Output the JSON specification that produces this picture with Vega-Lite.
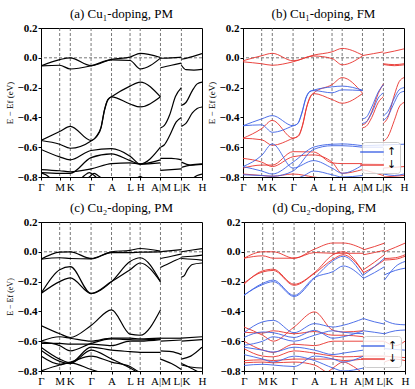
{
"$schema":"https://vega.github.io/schema/vega-lite/v6.json",
"padding":{"left":5,"top":7,"right":2,"bottom":2},
"config":{
 "font":"Liberation Serif",
 "view":{"stroke":"black","strokeWidth":1},
 "axis":{"grid":false,"domainColor":"black","tickColor":"black","tickSize":3,"labelColor":"black","titleColor":"black","labelFont":"Liberation Serif","titleFont":"Liberation Serif","labelOverlap":false,"labelFlush":false,"labelBound":false},
 "axisX":{"labelFontSize":11,"labelPadding":1},
 "axisY":{"labelFontSize":11,"labelFontWeight":"bold","titleFontSize":9,"titleFontWeight":"normal","titlePadding":2,"labelPadding":1},
 "title":{"fontSize":13,"fontWeight":"normal","font":"Liberation Serif","offset":1,"anchor":"middle","color":"black"}
},
"datasets":{
"kp":[{"x":0.116},{"x":0.182},{"x":0.311},{"x":0.438},{"x":0.553},{"x":0.616},{"x":0.742},{"x":0.872}],
"a":[
{"b":"1","x":0,"y":-0.054},{"b":"1","x":0.116,"y":-0.012},{"b":"1","x":0.182,"y":0},{"b":"1","x":0.311,"y":-0.052},{"b":"1","x":0.438,"y":-0.01},{"b":"1","x":0.553,"y":0.005},{"b":"1","x":0.616,"y":0.03},{"b":"1","x":0.742,"y":0.002},
{"b":"2","x":0,"y":-0.054},{"b":"2","x":0.116,"y":-0.05},{"b":"2","x":0.182,"y":-0.075},{"b":"2","x":0.311,"y":-0.054},{"b":"2","x":0.438,"y":-0.014},{"b":"2","x":0.553,"y":-0.018},{"b":"2","x":0.616,"y":-0.075},{"b":"2","x":0.742,"y":-0.002},
{"b":"3","x":0,"y":-0.555},{"b":"3","x":0.116,"y":-0.495},{"b":"3","x":0.182,"y":-0.46},{"b":"3","x":0.311,"y":-0.555},{"b":"3","x":0.345,"y":-0.525},{"b":"3","x":0.373,"y":-0.465},{"b":"3","x":0.394,"y":-0.35},{"b":"3","x":0.415,"y":-0.28},{"b":"3","x":0.438,"y":-0.262},{"b":"3","x":0.553,"y":-0.19},{"b":"3","x":0.616,"y":-0.163},{"b":"3","x":0.742,"y":-0.262},
{"b":"4","x":0,"y":-0.555},{"b":"4","x":0.116,"y":-0.58},{"b":"4","x":0.182,"y":-0.607},{"b":"4","x":0.311,"y":-0.558},{"b":"4","x":0.345,"y":-0.53},{"b":"4","x":0.373,"y":-0.47},{"b":"4","x":0.394,"y":-0.355},{"b":"4","x":0.415,"y":-0.284},{"b":"4","x":0.438,"y":-0.262},{"b":"4","x":0.553,"y":-0.31},{"b":"4","x":0.616,"y":-0.33},{"b":"4","x":0.742,"y":-0.262},
{"b":"5","x":0,"y":-0.615},{"b":"5","x":0.116,"y":-0.665},{"b":"5","x":0.182,"y":-0.685},{"b":"5","x":0.311,"y":-0.622},{"b":"5","x":0.438,"y":-0.61},{"b":"5","x":0.553,"y":-0.66},{"b":"5","x":0.616,"y":-0.713},{"b":"5","x":0.742,"y":-0.6},
{"b":"6","x":0,"y":-0.75},{"b":"6","x":0.116,"y":-0.758},{"b":"6","x":0.182,"y":-0.765},{"b":"6","x":0.311,"y":-0.745},{"b":"6","x":0.438,"y":-0.71},{"b":"6","x":0.553,"y":-0.705},{"b":"6","x":0.616,"y":-0.713},{"b":"6","x":0.742,"y":-0.705},
{"b":"7","x":0,"y":-0.77},{"b":"7","x":0.116,"y":-0.775},{"b":"7","x":0.182,"y":-0.775},{"b":"7","x":0.311,"y":-0.67},{"b":"7","x":0.438,"y":-0.645},{"b":"7","x":0.553,"y":-0.69},{"b":"7","x":0.616,"y":-0.713},{"b":"7","x":0.742,"y":-0.685},
{"b":"8","x":0,"y":-0.772},{"b":"8","x":0.03,"y":-0.785},{"b":"8","x":0.065,"y":-0.815},
{"b":"9","x":0.24,"y":-0.82},{"b":"9","x":0.27,"y":-0.79},{"b":"9","x":0.3,"y":-0.77},{"b":"9","x":0.33,"y":-0.79},{"b":"9","x":0.36,"y":-0.82},
{"b":"10","x":0.27,"y":-0.82},{"b":"10","x":0.3,"y":-0.8},{"b":"10","x":0.33,"y":-0.775},{"b":"10","x":0.36,"y":-0.795},{"b":"10","x":0.39,"y":-0.82},
{"b":"11","x":0.58,"y":-0.82},{"b":"11","x":0.616,"y":-0.798},{"b":"11","x":0.65,"y":-0.82},
{"b":"1m","x":0.742,"y":-0.067},{"b":"1m","x":0.81,"y":-0.05},{"b":"1m","x":0.872,"y":-0.036},
{"b":"2m","x":0.742,"y":-0.003},{"b":"2m","x":0.81,"y":0},{"b":"2m","x":0.872,"y":0.004},
{"b":"3m","x":0.742,"y":-0.47},{"b":"3m","x":0.765,"y":-0.455},{"b":"3m","x":0.8,"y":-0.38},{"b":"3m","x":0.835,"y":-0.26},{"b":"3m","x":0.872,"y":-0.2},
{"b":"4m","x":0.742,"y":-0.6},{"b":"4m","x":0.765,"y":-0.585},{"b":"4m","x":0.8,"y":-0.52},{"b":"4m","x":0.84,"y":-0.43},{"b":"4m","x":0.872,"y":-0.4},
{"b":"5m","x":0.742,"y":-0.675},{"b":"5m","x":0.81,"y":-0.675},{"b":"5m","x":0.872,"y":-0.685},
{"b":"6m","x":0.742,"y":-0.755},{"b":"6m","x":0.81,"y":-0.75},{"b":"6m","x":0.872,"y":-0.745},
{"b":"1k","x":0.872,"y":-0.01},{"b":"1k","x":0.94,"y":0.008},{"b":"1k","x":1,"y":0.028},
{"b":"2k","x":0.872,"y":-0.05},{"b":"2k","x":0.9,"y":-0.08},{"b":"2k","x":0.95,"y":-0.083},{"b":"2k","x":1,"y":-0.078},
{"b":"3k","x":0.872,"y":-0.32},{"b":"3k","x":0.9,"y":-0.3},{"b":"3k","x":0.94,"y":-0.22},{"b":"3k","x":0.97,"y":-0.175},{"b":"3k","x":1,"y":-0.163},
{"b":"4k","x":0.872,"y":-0.46},{"b":"4k","x":0.9,"y":-0.44},{"b":"4k","x":0.94,"y":-0.37},{"b":"4k","x":0.97,"y":-0.34},{"b":"4k","x":1,"y":-0.33},
{"b":"5k","x":0.872,"y":-0.7},{"b":"5k","x":0.93,"y":-0.72},{"b":"5k","x":1,"y":-0.715},
{"b":"6k","x":0.872,"y":-0.735},{"b":"6k","x":0.93,"y":-0.72},{"b":"6k","x":1,"y":-0.712},
{"b":"7k","x":0.93,"y":-0.82},{"b":"7k","x":0.97,"y":-0.79},{"b":"7k","x":1,"y":-0.78}
],
"b":[
{"b":"d1","s":"d","x":0,"y":-0.02},{"b":"d1","s":"d","x":0.116,"y":0.014},{"b":"d1","s":"d","x":0.182,"y":0.03},{"b":"d1","s":"d","x":0.311,"y":-0.02},{"b":"d1","s":"d","x":0.438,"y":0.018},{"b":"d1","s":"d","x":0.553,"y":0.04},{"b":"d1","s":"d","x":0.616,"y":0.063},{"b":"d1","s":"d","x":0.742,"y":0.018},
{"b":"d2","s":"d","x":0,"y":-0.027},{"b":"d2","s":"d","x":0.116,"y":-0.04},{"b":"d2","s":"d","x":0.182,"y":-0.05},{"b":"d2","s":"d","x":0.311,"y":-0.027},{"b":"d2","s":"d","x":0.438,"y":0.012},{"b":"d2","s":"d","x":0.553,"y":-0.005},{"b":"d2","s":"d","x":0.616,"y":-0.047},{"b":"d2","s":"d","x":0.742,"y":0.012},
{"b":"d3","s":"d","x":0,"y":-0.54},{"b":"d3","s":"d","x":0.116,"y":-0.475},{"b":"d3","s":"d","x":0.182,"y":-0.42},{"b":"d3","s":"d","x":0.311,"y":-0.54},{"b":"d3","s":"d","x":0.345,"y":-0.52},{"b":"d3","s":"d","x":0.37,"y":-0.45},{"b":"d3","s":"d","x":0.395,"y":-0.33},{"b":"d3","s":"d","x":0.418,"y":-0.26},{"b":"d3","s":"d","x":0.438,"y":-0.237},{"b":"d3","s":"d","x":0.553,"y":-0.18},{"b":"d3","s":"d","x":0.616,"y":-0.133},{"b":"d3","s":"d","x":0.742,"y":-0.237},
{"b":"d4","s":"d","x":0,"y":-0.54},{"b":"d4","s":"d","x":0.116,"y":-0.55},{"b":"d4","s":"d","x":0.182,"y":-0.587},{"b":"d4","s":"d","x":0.311,"y":-0.54},{"b":"d4","s":"d","x":0.345,"y":-0.525},{"b":"d4","s":"d","x":0.37,"y":-0.455},{"b":"d4","s":"d","x":0.395,"y":-0.335},{"b":"d4","s":"d","x":0.418,"y":-0.265},{"b":"d4","s":"d","x":0.438,"y":-0.24},{"b":"d4","s":"d","x":0.553,"y":-0.28},{"b":"d4","s":"d","x":0.616,"y":-0.305},{"b":"d4","s":"d","x":0.742,"y":-0.24},
{"b":"d5","s":"d","x":0,"y":-0.675},{"b":"d5","s":"d","x":0.116,"y":-0.7},{"b":"d5","s":"d","x":0.182,"y":-0.73},{"b":"d5","s":"d","x":0.311,"y":-0.664},{"b":"d5","s":"d","x":0.438,"y":-0.652},{"b":"d5","s":"d","x":0.553,"y":-0.7},{"b":"d5","s":"d","x":0.616,"y":-0.775},{"b":"d5","s":"d","x":0.742,"y":-0.75},
{"b":"d6","s":"d","x":0,"y":-0.74},{"b":"d6","s":"d","x":0.116,"y":-0.72},{"b":"d6","s":"d","x":0.182,"y":-0.72},{"b":"d6","s":"d","x":0.311,"y":-0.63},{"b":"d6","s":"d","x":0.438,"y":-0.632},{"b":"d6","s":"d","x":0.553,"y":-0.705},{"b":"d6","s":"d","x":0.616,"y":-0.71},{"b":"d6","s":"d","x":0.742,"y":-0.71},
{"b":"d7","s":"d","x":0,"y":-0.78},{"b":"d7","s":"d","x":0.116,"y":-0.79},{"b":"d7","s":"d","x":0.182,"y":-0.795},{"b":"d7","s":"d","x":0.311,"y":-0.78},{"b":"d7","s":"d","x":0.438,"y":-0.8},{"b":"d7","s":"d","x":0.553,"y":-0.815},
{"b":"d1m","s":"d","x":0.742,"y":0.015},{"b":"d1m","s":"d","x":0.81,"y":0.028},{"b":"d1m","s":"d","x":0.872,"y":0.04},
{"b":"d3m","s":"d","x":0.742,"y":-0.45},{"b":"d3m","s":"d","x":0.765,"y":-0.435},{"b":"d3m","s":"d","x":0.8,"y":-0.36},{"b":"d3m","s":"d","x":0.84,"y":-0.24},{"b":"d3m","s":"d","x":0.872,"y":-0.175},
{"b":"d4m","s":"d","x":0.742,"y":-0.47},{"b":"d4m","s":"d","x":0.765,"y":-0.46},{"b":"d4m","s":"d","x":0.8,"y":-0.4},{"b":"d4m","s":"d","x":0.84,"y":-0.3},{"b":"d4m","s":"d","x":0.872,"y":-0.26},
{"b":"d6m","s":"d","x":0.742,"y":-0.71},{"b":"d6m","s":"d","x":0.872,"y":-0.715},
{"b":"d5m","s":"d","x":0.742,"y":-0.75},{"b":"d5m","s":"d","x":0.81,"y":-0.77},{"b":"d5m","s":"d","x":0.872,"y":-0.79},
{"b":"d1k","s":"d","x":0.872,"y":0.03},{"b":"d1k","s":"d","x":0.94,"y":0.045},{"b":"d1k","s":"d","x":1,"y":0.06},
{"b":"d2k","s":"d","x":0.872,"y":-0.045},{"b":"d2k","s":"d","x":0.94,"y":-0.053},{"b":"d2k","s":"d","x":1,"y":-0.047},
{"b":"d2l","s":"d","x":0.872,"y":-0.04},{"b":"d2l","s":"d","x":0.94,"y":-0.046},{"b":"d2l","s":"d","x":1,"y":-0.04},
{"b":"d3k","s":"d","x":0.872,"y":-0.44},{"b":"d3k","s":"d","x":0.9,"y":-0.4},{"b":"d3k","s":"d","x":0.94,"y":-0.25},{"b":"d3k","s":"d","x":0.97,"y":-0.16},{"b":"d3k","s":"d","x":1,"y":-0.133},
{"b":"d4k","s":"d","x":0.872,"y":-0.56},{"b":"d4k","s":"d","x":0.9,"y":-0.53},{"b":"d4k","s":"d","x":0.94,"y":-0.42},{"b":"d4k","s":"d","x":0.97,"y":-0.33},{"b":"d4k","s":"d","x":1,"y":-0.3},
{"b":"d5k","s":"d","x":0.872,"y":-0.74},{"b":"d5k","s":"d","x":0.94,"y":-0.735},{"b":"d5k","s":"d","x":1,"y":-0.73},
{"b":"d7k","s":"d","x":0.872,"y":-0.8},{"b":"d7k","s":"d","x":1,"y":-0.79},
{"b":"u1","s":"u","x":0,"y":-0.456},{"b":"u1","s":"u","x":0.116,"y":-0.41},{"b":"u1","s":"u","x":0.182,"y":-0.388},{"b":"u1","s":"u","x":0.311,"y":-0.456},{"b":"u1","s":"u","x":0.34,"y":-0.44},{"b":"u1","s":"u","x":0.365,"y":-0.37},{"b":"u1","s":"u","x":0.39,"y":-0.27},{"b":"u1","s":"u","x":0.415,"y":-0.225},{"b":"u1","s":"u","x":0.438,"y":-0.217},{"b":"u1","s":"u","x":0.553,"y":-0.195},{"b":"u1","s":"u","x":0.616,"y":-0.19},{"b":"u1","s":"u","x":0.742,"y":-0.217},
{"b":"u2","s":"u","x":0,"y":-0.456},{"b":"u2","s":"u","x":0.116,"y":-0.45},{"b":"u2","s":"u","x":0.182,"y":-0.5},{"b":"u2","s":"u","x":0.311,"y":-0.456},{"b":"u2","s":"u","x":0.34,"y":-0.442},{"b":"u2","s":"u","x":0.365,"y":-0.375},{"b":"u2","s":"u","x":0.39,"y":-0.275},{"b":"u2","s":"u","x":0.415,"y":-0.228},{"b":"u2","s":"u","x":0.438,"y":-0.22},{"b":"u2","s":"u","x":0.553,"y":-0.235},{"b":"u2","s":"u","x":0.616,"y":-0.215},{"b":"u2","s":"u","x":0.742,"y":-0.22},
{"b":"u4","s":"u","x":0,"y":-0.73},{"b":"u4","s":"u","x":0.116,"y":-0.655},{"b":"u4","s":"u","x":0.182,"y":-0.578},{"b":"u4","s":"u","x":0.311,"y":-0.74},{"b":"u4","s":"u","x":0.438,"y":-0.69},{"b":"u4","s":"u","x":0.553,"y":-0.74},{"b":"u4","s":"u","x":0.616,"y":-0.775},{"b":"u4","s":"u","x":0.742,"y":-0.72},
{"b":"u5","s":"u","x":0,"y":-0.73},{"b":"u5","s":"u","x":0.116,"y":-0.76},{"b":"u5","s":"u","x":0.182,"y":-0.78},{"b":"u5","s":"u","x":0.311,"y":-0.7},{"b":"u5","s":"u","x":0.438,"y":-0.6},{"b":"u5","s":"u","x":0.553,"y":-0.58},{"b":"u5","s":"u","x":0.616,"y":-0.578},{"b":"u5","s":"u","x":0.742,"y":-0.59},
{"b":"u6","s":"u","x":0,"y":-0.785},{"b":"u6","s":"u","x":0.116,"y":-0.79},{"b":"u6","s":"u","x":0.182,"y":-0.795},{"b":"u6","s":"u","x":0.311,"y":-0.76},{"b":"u6","s":"u","x":0.438,"y":-0.615},{"b":"u6","s":"u","x":0.553,"y":-0.59},{"b":"u6","s":"u","x":0.616,"y":-0.59},{"b":"u6","s":"u","x":0.742,"y":-0.6},
{"b":"u7","s":"u","x":0.311,"y":-0.82},{"b":"u7","s":"u","x":0.38,"y":-0.79},{"b":"u7","s":"u","x":0.438,"y":-0.76},{"b":"u7","s":"u","x":0.553,"y":-0.785},{"b":"u7","s":"u","x":0.616,"y":-0.8},{"b":"u7","s":"u","x":0.742,"y":-0.79},
{"b":"u1m","s":"u","x":0.742,"y":-0.41},{"b":"u1m","s":"u","x":0.765,"y":-0.4},{"b":"u1m","s":"u","x":0.8,"y":-0.33},{"b":"u1m","s":"u","x":0.84,"y":-0.23},{"b":"u1m","s":"u","x":0.872,"y":-0.18},
{"b":"u2m","s":"u","x":0.742,"y":-0.44},{"b":"u2m","s":"u","x":0.765,"y":-0.43},{"b":"u2m","s":"u","x":0.8,"y":-0.37},{"b":"u2m","s":"u","x":0.84,"y":-0.27},{"b":"u2m","s":"u","x":0.872,"y":-0.235},
{"b":"u5m","s":"u","x":0.742,"y":-0.59},{"b":"u5m","s":"u","x":0.872,"y":-0.585},
{"b":"u6m","s":"u","x":0.742,"y":-0.6},{"b":"u6m","s":"u","x":0.872,"y":-0.6},
{"b":"u1k","s":"u","x":0.872,"y":-0.39},{"b":"u1k","s":"u","x":0.9,"y":-0.36},{"b":"u1k","s":"u","x":0.94,"y":-0.27},{"b":"u1k","s":"u","x":0.97,"y":-0.215},{"b":"u1k","s":"u","x":1,"y":-0.2},
{"b":"u2k","s":"u","x":0.872,"y":-0.42},{"b":"u2k","s":"u","x":0.9,"y":-0.39},{"b":"u2k","s":"u","x":0.94,"y":-0.3},{"b":"u2k","s":"u","x":0.97,"y":-0.24},{"b":"u2k","s":"u","x":1,"y":-0.225},
{"b":"u5k","s":"u","x":0.872,"y":-0.585},{"b":"u5k","s":"u","x":1,"y":-0.58},
{"b":"u7k","s":"u","x":0.872,"y":-0.78},{"b":"u7k","s":"u","x":0.94,"y":-0.79},{"b":"u7k","s":"u","x":1,"y":-0.78}
],
"c":[
{"b":"1","x":0,"y":-0.05},{"b":"1","x":0.116,"y":-0.002},{"b":"1","x":0.182,"y":0},{"b":"1","x":0.311,"y":-0.045},{"b":"1","x":0.438,"y":0},{"b":"1","x":0.553,"y":0.01},{"b":"1","x":0.616,"y":0.022},{"b":"1","x":0.742,"y":0.005},
{"b":"2","x":0,"y":-0.05},{"b":"2","x":0.116,"y":-0.04},{"b":"2","x":0.182,"y":-0.045},{"b":"2","x":0.311,"y":-0.048},{"b":"2","x":0.438,"y":-0.005},{"b":"2","x":0.553,"y":-0.005},{"b":"2","x":0.616,"y":-0.002},{"b":"2","x":0.742,"y":0},
{"b":"3","x":0,"y":-0.28},{"b":"3","x":0.116,"y":-0.12},{"b":"3","x":0.182,"y":-0.1},{"b":"3","x":0.311,"y":-0.28},{"b":"3","x":0.438,"y":-0.2},{"b":"3","x":0.553,"y":-0.065},{"b":"3","x":0.616,"y":-0.04},{"b":"3","x":0.742,"y":-0.2},
{"b":"4","x":0,"y":-0.28},{"b":"4","x":0.116,"y":-0.2},{"b":"4","x":0.182,"y":-0.175},{"b":"4","x":0.311,"y":-0.28},{"b":"4","x":0.438,"y":-0.2},{"b":"4","x":0.553,"y":-0.12},{"b":"4","x":0.616,"y":-0.075},{"b":"4","x":0.742,"y":-0.2},
{"b":"5","x":0,"y":-0.495},{"b":"5","x":0.116,"y":-0.55},{"b":"5","x":0.182,"y":-0.575},{"b":"5","x":0.311,"y":-0.495},{"b":"5","x":0.438,"y":-0.39},{"b":"5","x":0.553,"y":-0.553},{"b":"5","x":0.616,"y":-0.56},{"b":"5","x":0.742,"y":-0.39},
{"b":"6","x":0,"y":-0.6},{"b":"6","x":0.116,"y":-0.57},{"b":"6","x":0.182,"y":-0.58},{"b":"6","x":0.311,"y":-0.6},{"b":"6","x":0.438,"y":-0.58},{"b":"6","x":0.553,"y":-0.58},{"b":"6","x":0.616,"y":-0.585},{"b":"6","x":0.742,"y":-0.58},
{"b":"7","x":0,"y":-0.605},{"b":"7","x":0.116,"y":-0.63},{"b":"7","x":0.182,"y":-0.665},{"b":"7","x":0.311,"y":-0.615},{"b":"7","x":0.438,"y":-0.585},{"b":"7","x":0.553,"y":-0.59},{"b":"7","x":0.616,"y":-0.592},{"b":"7","x":0.742,"y":-0.585},
{"b":"8","x":0,"y":-0.615},{"b":"8","x":0.116,"y":-0.615},{"b":"8","x":0.182,"y":-0.62},{"b":"8","x":0.311,"y":-0.62},{"b":"8","x":0.438,"y":-0.63},{"b":"8","x":0.553,"y":-0.6},{"b":"8","x":0.616,"y":-0.6},{"b":"8","x":0.742,"y":-0.59},
{"b":"9","x":0,"y":-0.64},{"b":"9","x":0.116,"y":-0.72},{"b":"9","x":0.182,"y":-0.745},{"b":"9","x":0.311,"y":-0.64},{"b":"9","x":0.438,"y":-0.66},{"b":"9","x":0.553,"y":-0.67},{"b":"9","x":0.616,"y":-0.675},{"b":"9","x":0.742,"y":-0.675},
{"b":"10","x":0,"y":-0.7},{"b":"10","x":0.116,"y":-0.755},{"b":"10","x":0.182,"y":-0.74},{"b":"10","x":0.311,"y":-0.7},{"b":"10","x":0.438,"y":-0.74},{"b":"10","x":0.553,"y":-0.77},{"b":"10","x":0.616,"y":-0.81},{"b":"10","x":0.68,"y":-0.83},
{"b":"11","x":0,"y":-0.8},{"b":"11","x":0.116,"y":-0.76},{"b":"11","x":0.182,"y":-0.745},{"b":"11","x":0.311,"y":-0.79},{"b":"11","x":0.4,"y":-0.82},
{"b":"12","x":0,"y":-0.66},{"b":"12","x":0.116,"y":-0.735},{"b":"12","x":0.182,"y":-0.75},{"b":"12","x":0.311,"y":-0.66},{"b":"12","x":0.438,"y":-0.72},{"b":"12","x":0.553,"y":-0.78},{"b":"12","x":0.616,"y":-0.82},
{"b":"1m","x":0.742,"y":0},{"b":"1m","x":0.81,"y":0.008},{"b":"1m","x":0.872,"y":0.015},
{"b":"2m","x":0.742,"y":-0.045},{"b":"2m","x":0.81,"y":-0.03},{"b":"2m","x":0.872,"y":-0.015},
{"b":"3m","x":0.742,"y":-0.105},{"b":"3m","x":0.81,"y":-0.07},{"b":"3m","x":0.872,"y":-0.04},
{"b":"4m","x":0.742,"y":-0.58},{"b":"4m","x":0.872,"y":-0.58},
{"b":"5m","x":0.742,"y":-0.6},{"b":"5m","x":0.872,"y":-0.592},
{"b":"6m","x":0.742,"y":-0.665},{"b":"6m","x":0.81,"y":-0.67},{"b":"6m","x":0.872,"y":-0.69},
{"b":"7m","x":0.742,"y":-0.72},{"b":"7m","x":0.81,"y":-0.75},{"b":"7m","x":0.872,"y":-0.79},
{"b":"1k","x":0.872,"y":0},{"b":"1k","x":0.94,"y":0.012},{"b":"1k","x":1,"y":0.022},
{"b":"2k","x":0.872,"y":-0.035},{"b":"2k","x":0.94,"y":-0.03},{"b":"2k","x":1,"y":-0.022},
{"b":"3k","x":0.872,"y":-0.045},{"b":"3k","x":0.94,"y":-0.05},{"b":"3k","x":1,"y":-0.056},
{"b":"4k","x":0.872,"y":-0.17},{"b":"4k","x":0.89,"y":-0.16},{"b":"4k","x":0.91,"y":-0.12},{"b":"4k","x":0.94,"y":-0.085},{"b":"4k","x":1,"y":-0.075},
{"b":"5k","x":0.872,"y":-0.58},{"b":"5k","x":1,"y":-0.57},
{"b":"6k","x":0.872,"y":-0.6},{"b":"6k","x":1,"y":-0.59},
{"b":"7k","x":0.872,"y":-0.72},{"b":"7k","x":0.93,"y":-0.7},{"b":"7k","x":1,"y":-0.64},
{"b":"8k","x":0.872,"y":-0.75},{"b":"8k","x":0.93,"y":-0.78},{"b":"8k","x":1,"y":-0.82},
{"b":"9k","x":0.872,"y":-0.76},{"b":"9k","x":0.94,"y":-0.775},{"b":"9k","x":1,"y":-0.78}
],
"d":[
{"b":"d1","s":"d","x":0,"y":-0.043},{"b":"d1","s":"d","x":0.116,"y":0},{"b":"d1","s":"d","x":0.182,"y":0},{"b":"d1","s":"d","x":0.311,"y":-0.043},{"b":"d1","s":"d","x":0.438,"y":0.018},{"b":"d1","s":"d","x":0.553,"y":0.059},{"b":"d1","s":"d","x":0.616,"y":0.059},{"b":"d1","s":"d","x":0.742,"y":0.018},
{"b":"d2","s":"d","x":0,"y":-0.043},{"b":"d2","s":"d","x":0.116,"y":-0.027},{"b":"d2","s":"d","x":0.182,"y":-0.043},{"b":"d2","s":"d","x":0.311,"y":-0.043},{"b":"d2","s":"d","x":0.438,"y":-0.005},{"b":"d2","s":"d","x":0.553,"y":-0.01},{"b":"d2","s":"d","x":0.616,"y":-0.01},{"b":"d2","s":"d","x":0.742,"y":-0.01},
{"b":"d3","s":"d","x":0,"y":-0.218},{"b":"d3","s":"d","x":0.116,"y":-0.128},{"b":"d3","s":"d","x":0.182,"y":-0.117},{"b":"d3","s":"d","x":0.311,"y":-0.218},{"b":"d3","s":"d","x":0.438,"y":-0.14},{"b":"d3","s":"d","x":0.553,"y":-0.02},{"b":"d3","s":"d","x":0.616,"y":0},{"b":"d3","s":"d","x":0.742,"y":-0.14},
{"b":"d4","s":"d","x":0,"y":-0.21},{"b":"d4","s":"d","x":0.116,"y":-0.135},{"b":"d4","s":"d","x":0.182,"y":-0.125},{"b":"d4","s":"d","x":0.311,"y":-0.225},{"b":"d4","s":"d","x":0.438,"y":-0.145},{"b":"d4","s":"d","x":0.553,"y":-0.05},{"b":"d4","s":"d","x":0.616,"y":-0.02},{"b":"d4","s":"d","x":0.742,"y":-0.135},
{"b":"d5","s":"d","x":0,"y":-0.505},{"b":"d5","s":"d","x":0.116,"y":-0.56},{"b":"d5","s":"d","x":0.182,"y":-0.6},{"b":"d5","s":"d","x":0.311,"y":-0.505},{"b":"d5","s":"d","x":0.438,"y":-0.403},{"b":"d5","s":"d","x":0.553,"y":-0.527},{"b":"d5","s":"d","x":0.616,"y":-0.538},{"b":"d5","s":"d","x":0.742,"y":-0.53},
{"b":"d6","s":"d","x":0,"y":-0.54},{"b":"d6","s":"d","x":0.116,"y":-0.545},{"b":"d6","s":"d","x":0.182,"y":-0.53},{"b":"d6","s":"d","x":0.311,"y":-0.55},{"b":"d6","s":"d","x":0.438,"y":-0.535},{"b":"d6","s":"d","x":0.553,"y":-0.56},{"b":"d6","s":"d","x":0.616,"y":-0.56},{"b":"d6","s":"d","x":0.742,"y":-0.57},
{"b":"d7","s":"d","x":0,"y":-0.6},{"b":"d7","s":"d","x":0.116,"y":-0.66},{"b":"d7","s":"d","x":0.182,"y":-0.675},{"b":"d7","s":"d","x":0.311,"y":-0.62},{"b":"d7","s":"d","x":0.438,"y":-0.63},{"b":"d7","s":"d","x":0.553,"y":-0.6},{"b":"d7","s":"d","x":0.616,"y":-0.6},{"b":"d7","s":"d","x":0.742,"y":-0.6},
{"b":"d8","s":"d","x":0,"y":-0.65},{"b":"d8","s":"d","x":0.116,"y":-0.7},{"b":"d8","s":"d","x":0.182,"y":-0.705},{"b":"d8","s":"d","x":0.311,"y":-0.665},{"b":"d8","s":"d","x":0.438,"y":-0.68},{"b":"d8","s":"d","x":0.553,"y":-0.7},{"b":"d8","s":"d","x":0.616,"y":-0.705},{"b":"d8","s":"d","x":0.742,"y":-0.7},
{"b":"d9","s":"d","x":0,"y":-0.73},{"b":"d9","s":"d","x":0.116,"y":-0.725},{"b":"d9","s":"d","x":0.182,"y":-0.73},{"b":"d9","s":"d","x":0.311,"y":-0.72},{"b":"d9","s":"d","x":0.438,"y":-0.72},{"b":"d9","s":"d","x":0.553,"y":-0.72},{"b":"d9","s":"d","x":0.616,"y":-0.73},{"b":"d9","s":"d","x":0.742,"y":-0.72},
{"b":"d10","s":"d","x":0,"y":-0.745},{"b":"d10","s":"d","x":0.116,"y":-0.74},{"b":"d10","s":"d","x":0.182,"y":-0.745},{"b":"d10","s":"d","x":0.311,"y":-0.74},{"b":"d10","s":"d","x":0.438,"y":-0.76},{"b":"d10","s":"d","x":0.5,"y":-0.8},{"b":"d10","s":"d","x":0.54,"y":-0.825},
{"b":"d11","s":"d","x":0.5,"y":-0.825},{"b":"d11","s":"d","x":0.553,"y":-0.78},{"b":"d11","s":"d","x":0.616,"y":-0.74},{"b":"d11","s":"d","x":0.68,"y":-0.77},{"b":"d11","s":"d","x":0.742,"y":-0.82},
{"b":"d1m","s":"d","x":0.742,"y":0.013},{"b":"d1m","s":"d","x":0.81,"y":0.035},{"b":"d1m","s":"d","x":0.872,"y":0.058},
{"b":"d2m","s":"d","x":0.742,"y":-0.02},{"b":"d2m","s":"d","x":0.81,"y":-0.005},{"b":"d2m","s":"d","x":0.872,"y":0.01},
{"b":"d3m","s":"d","x":0.742,"y":-0.12},{"b":"d3m","s":"d","x":0.81,"y":-0.07},{"b":"d3m","s":"d","x":0.872,"y":-0.02},
{"b":"d4m","s":"d","x":0.742,"y":-0.14},{"b":"d4m","s":"d","x":0.81,"y":-0.1},{"b":"d4m","s":"d","x":0.872,"y":-0.055},
{"b":"d7m","s":"d","x":0.742,"y":-0.6},{"b":"d7m","s":"d","x":0.872,"y":-0.6},
{"b":"d8m","s":"d","x":0.742,"y":-0.7},{"b":"d8m","s":"d","x":0.872,"y":-0.7},
{"b":"d9m","s":"d","x":0.742,"y":-0.72},{"b":"d9m","s":"d","x":0.872,"y":-0.725},
{"b":"d1k","s":"d","x":0.872,"y":0},{"b":"d1k","s":"d","x":0.94,"y":0.03},{"b":"d1k","s":"d","x":1,"y":0.058},
{"b":"d2k","s":"d","x":0.872,"y":-0.045},{"b":"d2k","s":"d","x":0.94,"y":-0.04},{"b":"d2k","s":"d","x":1,"y":-0.02},
{"b":"d3k","s":"d","x":0.872,"y":-0.055},{"b":"d3k","s":"d","x":0.94,"y":-0.05},{"b":"d3k","s":"d","x":1,"y":-0.03},
{"b":"d7k","s":"d","x":0.872,"y":-0.6},{"b":"d7k","s":"d","x":0.94,"y":-0.63},{"b":"d7k","s":"d","x":1,"y":-0.6},
{"b":"d8k","s":"d","x":0.872,"y":-0.7},{"b":"d8k","s":"d","x":1,"y":-0.71},
{"b":"d9k","s":"d","x":0.872,"y":-0.74},{"b":"d9k","s":"d","x":0.94,"y":-0.72},{"b":"d9k","s":"d","x":1,"y":-0.73},
{"b":"u1","s":"u","x":0,"y":-0.293},{"b":"u1","s":"u","x":0.116,"y":-0.212},{"b":"u1","s":"u","x":0.182,"y":-0.19},{"b":"u1","s":"u","x":0.311,"y":-0.293},{"b":"u1","s":"u","x":0.438,"y":-0.173},{"b":"u1","s":"u","x":0.553,"y":-0.133},{"b":"u1","s":"u","x":0.616,"y":-0.095},{"b":"u1","s":"u","x":0.742,"y":-0.178},
{"b":"u2","s":"u","x":0,"y":-0.29},{"b":"u2","s":"u","x":0.116,"y":-0.22},{"b":"u2","s":"u","x":0.182,"y":-0.2},{"b":"u2","s":"u","x":0.311,"y":-0.3},{"b":"u2","s":"u","x":0.438,"y":-0.175},{"b":"u2","s":"u","x":0.553,"y":-0.06},{"b":"u2","s":"u","x":0.616,"y":-0.03},{"b":"u2","s":"u","x":0.742,"y":-0.165},
{"b":"u3","s":"u","x":0,"y":-0.543},{"b":"u3","s":"u","x":0.116,"y":-0.47},{"b":"u3","s":"u","x":0.182,"y":-0.46},{"b":"u3","s":"u","x":0.311,"y":-0.543},{"b":"u3","s":"u","x":0.438,"y":-0.482},{"b":"u3","s":"u","x":0.553,"y":-0.505},{"b":"u3","s":"u","x":0.616,"y":-0.493},{"b":"u3","s":"u","x":0.742,"y":-0.448},
{"b":"u4","s":"u","x":0,"y":-0.575},{"b":"u4","s":"u","x":0.116,"y":-0.538},{"b":"u4","s":"u","x":0.182,"y":-0.543},{"b":"u4","s":"u","x":0.311,"y":-0.575},{"b":"u4","s":"u","x":0.438,"y":-0.527},{"b":"u4","s":"u","x":0.553,"y":-0.58},{"b":"u4","s":"u","x":0.616,"y":-0.57},{"b":"u4","s":"u","x":0.742,"y":-0.53},
{"b":"u5","s":"u","x":0,"y":-0.628},{"b":"u5","s":"u","x":0.116,"y":-0.6},{"b":"u5","s":"u","x":0.182,"y":-0.57},{"b":"u5","s":"u","x":0.311,"y":-0.6},{"b":"u5","s":"u","x":0.438,"y":-0.56},{"b":"u5","s":"u","x":0.553,"y":-0.53},{"b":"u5","s":"u","x":0.616,"y":-0.54},{"b":"u5","s":"u","x":0.742,"y":-0.55},
{"b":"u6","s":"u","x":0,"y":-0.64},{"b":"u6","s":"u","x":0.116,"y":-0.66},{"b":"u6","s":"u","x":0.182,"y":-0.673},{"b":"u6","s":"u","x":0.311,"y":-0.64},{"b":"u6","s":"u","x":0.438,"y":-0.66},{"b":"u6","s":"u","x":0.553,"y":-0.69},{"b":"u6","s":"u","x":0.616,"y":-0.68},{"b":"u6","s":"u","x":0.742,"y":-0.66},
{"b":"u7","s":"u","x":0,"y":-0.763},{"b":"u7","s":"u","x":0.116,"y":-0.755},{"b":"u7","s":"u","x":0.182,"y":-0.76},{"b":"u7","s":"u","x":0.311,"y":-0.77},{"b":"u7","s":"u","x":0.438,"y":-0.7},{"b":"u7","s":"u","x":0.553,"y":-0.72},{"b":"u7","s":"u","x":0.616,"y":-0.74},{"b":"u7","s":"u","x":0.742,"y":-0.7},
{"b":"u8","s":"u","x":0,"y":-0.69},{"b":"u8","s":"u","x":0.116,"y":-0.72},{"b":"u8","s":"u","x":0.182,"y":-0.74},{"b":"u8","s":"u","x":0.311,"y":-0.7},{"b":"u8","s":"u","x":0.438,"y":-0.73},{"b":"u8","s":"u","x":0.553,"y":-0.78},{"b":"u8","s":"u","x":0.616,"y":-0.8},{"b":"u8","s":"u","x":0.742,"y":-0.78},
{"b":"u1m","s":"u","x":0.742,"y":-0.155},{"b":"u1m","s":"u","x":0.81,"y":-0.1},{"b":"u1m","s":"u","x":0.872,"y":-0.043},
{"b":"u2m","s":"u","x":0.742,"y":-0.178},{"b":"u2m","s":"u","x":0.81,"y":-0.14},{"b":"u2m","s":"u","x":0.872,"y":-0.1},
{"b":"u3m","s":"u","x":0.742,"y":-0.448},{"b":"u3m","s":"u","x":0.81,"y":-0.47},{"b":"u3m","s":"u","x":0.872,"y":-0.485},
{"b":"u4m","s":"u","x":0.742,"y":-0.53},{"b":"u4m","s":"u","x":0.81,"y":-0.54},{"b":"u4m","s":"u","x":0.872,"y":-0.55},
{"b":"u1k","s":"u","x":0.872,"y":-0.19},{"b":"u1k","s":"u","x":0.9,"y":-0.15},{"b":"u1k","s":"u","x":0.94,"y":-0.1},{"b":"u1k","s":"u","x":1,"y":-0.065},
{"b":"u2k","s":"u","x":0.872,"y":-0.155},{"b":"u2k","s":"u","x":0.94,"y":-0.125},{"b":"u2k","s":"u","x":1,"y":-0.11},
{"b":"u3k","s":"u","x":0.872,"y":-0.46},{"b":"u3k","s":"u","x":0.94,"y":-0.485},{"b":"u3k","s":"u","x":1,"y":-0.49},
{"b":"u4k","s":"u","x":0.872,"y":-0.55},{"b":"u4k","s":"u","x":0.94,"y":-0.53},{"b":"u4k","s":"u","x":1,"y":-0.525},
{"b":"u6k","s":"u","x":0.872,"y":-0.65},{"b":"u6k","s":"u","x":1,"y":-0.66}
]
},
"resolve":{"scale":{"color":"independent"},"legend":{"color":"independent"}},
"spacing":8,
"vconcat":[
{"hconcat":[
{"width":161,"height":149,"title":{"text":"(a) Cu₁-doping, PM"},
 "layer":[
 {"data":{"name":"kp"},"mark":{"type":"rule","color":"#555555","strokeWidth":0.8,"strokeDash":[3,2]},
  "encoding":{"x":{"field":"x","type":"quantitative","scale":{"domain":[0,1],"nice":false,"zero":false},"axis":{"title":null,"values":[0,0.116,0.182,0.311,0.438,0.553,0.616,0.742,0.872,1],"labelExpr":"datum.value<0.05?'Γ':datum.value<0.15?'M':datum.value<0.25?'K':datum.value<0.4?'Γ':datum.value<0.5?'A':datum.value<0.58?'L':datum.value<0.7?'H':datum.value<0.8?'A|M':datum.value<0.95?'L|K':'H'","labelOverlap":false,"labelFlush":false,"labelBound":false}}}},
 {"data":{"values":[{"y":0}]},"mark":{"type":"rule","color":"#555555","strokeWidth":0.8,"strokeDash":[3,2]},
  "encoding":{"y":{"field":"y","type":"quantitative","scale":{"domain":[-0.8,0.2],"nice":false,"zero":false},"axis":{"title":"E − Ef (eV)","values":[-0.8,-0.6,-0.4,-0.2,0,0.2],"format":".1f","labelOverlap":false,"labelBound":false}}}},
 {"data":{"name":"a"},"mark":{"type":"line","interpolate":"monotone","clip":true,"color":"black","strokeWidth":1.2},
  "encoding":{"x":{"field":"x","type":"quantitative","scale":{"domain":[0,1],"nice":false,"zero":false},"axis":{"title":null,"values":[0,0.116,0.182,0.311,0.438,0.553,0.616,0.742,0.872,1],"labelExpr":"datum.value<0.05?'Γ':datum.value<0.15?'M':datum.value<0.25?'K':datum.value<0.4?'Γ':datum.value<0.5?'A':datum.value<0.58?'L':datum.value<0.7?'H':datum.value<0.8?'A|M':datum.value<0.95?'L|K':'H'","labelOverlap":false,"labelFlush":false,"labelBound":false}},
   "y":{"field":"y","type":"quantitative","scale":{"domain":[-0.8,0.2],"nice":false,"zero":false},"axis":{"title":"E − Ef (eV)","values":[-0.8,-0.6,-0.4,-0.2,0,0.2],"format":".1f","labelOverlap":false,"labelBound":false}},"detail":{"field":"b"}}}
 ]},
{"width":161,"height":149,"title":{"text":"(b) Cu₁-doping, FM"},
 "layer":[
 {"data":{"name":"kp"},"mark":{"type":"rule","color":"#555555","strokeWidth":0.8,"strokeDash":[3,2]},
  "encoding":{"x":{"field":"x","type":"quantitative","scale":{"domain":[0,1],"nice":false,"zero":false},"axis":{"title":null,"values":[0,0.116,0.182,0.311,0.438,0.553,0.616,0.742,0.872,1],"labelExpr":"datum.value<0.05?'Γ':datum.value<0.15?'M':datum.value<0.25?'K':datum.value<0.4?'Γ':datum.value<0.5?'A':datum.value<0.58?'L':datum.value<0.7?'H':datum.value<0.8?'A|M':datum.value<0.95?'L|K':'H'","labelOverlap":false,"labelFlush":false,"labelBound":false}}}},
 {"data":{"values":[{"y":0}]},"mark":{"type":"rule","color":"#555555","strokeWidth":0.8,"strokeDash":[3,2]},
  "encoding":{"y":{"field":"y","type":"quantitative","scale":{"domain":[-0.8,0.2],"nice":false,"zero":false},"axis":{"title":"E − Ef (eV)","values":[-0.8,-0.6,-0.4,-0.2,0,0.2],"format":".1f","labelOverlap":false,"labelBound":false}}}},
 {"data":{"name":"b"},"mark":{"type":"line","interpolate":"monotone","clip":true,"strokeWidth":1,"opacity":0.9},
  "encoding":{"x":{"field":"x","type":"quantitative","scale":{"domain":[0,1],"nice":false,"zero":false},"axis":{"title":null,"values":[0,0.116,0.182,0.311,0.438,0.553,0.616,0.742,0.872,1],"labelExpr":"datum.value<0.05?'Γ':datum.value<0.15?'M':datum.value<0.25?'K':datum.value<0.4?'Γ':datum.value<0.5?'A':datum.value<0.58?'L':datum.value<0.7?'H':datum.value<0.8?'A|M':datum.value<0.95?'L|K':'H'","labelOverlap":false,"labelFlush":false,"labelBound":false}},
   "y":{"field":"y","type":"quantitative","scale":{"domain":[-0.8,0.2],"nice":false,"zero":false},"axis":{"title":"E − Ef (eV)","values":[-0.8,-0.6,-0.4,-0.2,0,0.2],"format":".1f","labelOverlap":false,"labelBound":false}},"detail":{"field":"b"},
   "color":{"field":"s","type":"nominal","scale":{"domain":["u","d"],"range":["#3d62e6","#e8322c"]},
    "legend":{"title":null,"orient":"bottom-right","offset":4,"symbolType":"M-2,0H2","symbolSize":140,"symbolStrokeWidth":1.5,"labelExpr":"datum.value=='u'?'↑':'↓'","labelFont":"DejaVu Sans","labelFontSize":11,"labelOffset":8,"fillColor":"rgba(255,255,255,0.8)","strokeColor":"#cccccc","padding":3,"cornerRadius":3,"rowPadding":1}}}}
 ]}
],"spacing":0,"resolve":{"scale":{"color":"independent"},"legend":{"color":"independent"}}},
{"hconcat":[
{"width":161,"height":149,"title":{"text":"(c) Cu₂-doping, PM"},
 "layer":[
 {"data":{"name":"kp"},"mark":{"type":"rule","color":"#555555","strokeWidth":0.8,"strokeDash":[3,2]},
  "encoding":{"x":{"field":"x","type":"quantitative","scale":{"domain":[0,1],"nice":false,"zero":false},"axis":{"title":null,"values":[0,0.116,0.182,0.311,0.438,0.553,0.616,0.742,0.872,1],"labelExpr":"datum.value<0.05?'Γ':datum.value<0.15?'M':datum.value<0.25?'K':datum.value<0.4?'Γ':datum.value<0.5?'A':datum.value<0.58?'L':datum.value<0.7?'H':datum.value<0.8?'A|M':datum.value<0.95?'L|K':'H'","labelOverlap":false,"labelFlush":false,"labelBound":false}}}},
 {"data":{"values":[{"y":0}]},"mark":{"type":"rule","color":"#555555","strokeWidth":0.8,"strokeDash":[3,2]},
  "encoding":{"y":{"field":"y","type":"quantitative","scale":{"domain":[-0.8,0.2],"nice":false,"zero":false},"axis":{"title":"E − Ef (eV)","titleFontSize":8,"values":[-0.8,-0.6,-0.4,-0.2,0,0.2],"format":".1f","labelOverlap":false,"labelBound":false}}}},
 {"data":{"name":"c"},"mark":{"type":"line","interpolate":"monotone","clip":true,"color":"black","strokeWidth":1.2},
  "encoding":{"x":{"field":"x","type":"quantitative","scale":{"domain":[0,1],"nice":false,"zero":false},"axis":{"title":null,"values":[0,0.116,0.182,0.311,0.438,0.553,0.616,0.742,0.872,1],"labelExpr":"datum.value<0.05?'Γ':datum.value<0.15?'M':datum.value<0.25?'K':datum.value<0.4?'Γ':datum.value<0.5?'A':datum.value<0.58?'L':datum.value<0.7?'H':datum.value<0.8?'A|M':datum.value<0.95?'L|K':'H'","labelOverlap":false,"labelFlush":false,"labelBound":false}},
   "y":{"field":"y","type":"quantitative","scale":{"domain":[-0.8,0.2],"nice":false,"zero":false},"axis":{"title":"E − Ef (eV)","titleFontSize":8,"values":[-0.8,-0.6,-0.4,-0.2,0,0.2],"format":".1f","labelOverlap":false,"labelBound":false}},"detail":{"field":"b"}}}
 ]},
{"width":161,"height":149,"title":{"text":"(d) Cu₂-doping, FM"},
 "layer":[
 {"data":{"name":"kp"},"mark":{"type":"rule","color":"#555555","strokeWidth":0.8,"strokeDash":[3,2]},
  "encoding":{"x":{"field":"x","type":"quantitative","scale":{"domain":[0,1],"nice":false,"zero":false},"axis":{"title":null,"values":[0,0.116,0.182,0.311,0.438,0.553,0.616,0.742,0.872,1],"labelExpr":"datum.value<0.05?'Γ':datum.value<0.15?'M':datum.value<0.25?'K':datum.value<0.4?'Γ':datum.value<0.5?'A':datum.value<0.58?'L':datum.value<0.7?'H':datum.value<0.8?'A|M':datum.value<0.95?'L|K':'H'","labelOverlap":false,"labelFlush":false,"labelBound":false}}}},
 {"data":{"values":[{"y":0}]},"mark":{"type":"rule","color":"#555555","strokeWidth":0.8,"strokeDash":[3,2]},
  "encoding":{"y":{"field":"y","type":"quantitative","scale":{"domain":[-0.8,0.2],"nice":false,"zero":false},"axis":{"title":null,"values":[-0.8,-0.6,-0.4,-0.2,0,0.2],"format":".1f","labelOverlap":false,"labelBound":false}}}},
 {"data":{"name":"d"},"mark":{"type":"line","interpolate":"monotone","clip":true,"strokeWidth":1,"opacity":0.9},
  "encoding":{"x":{"field":"x","type":"quantitative","scale":{"domain":[0,1],"nice":false,"zero":false},"axis":{"title":null,"values":[0,0.116,0.182,0.311,0.438,0.553,0.616,0.742,0.872,1],"labelExpr":"datum.value<0.05?'Γ':datum.value<0.15?'M':datum.value<0.25?'K':datum.value<0.4?'Γ':datum.value<0.5?'A':datum.value<0.58?'L':datum.value<0.7?'H':datum.value<0.8?'A|M':datum.value<0.95?'L|K':'H'","labelOverlap":false,"labelFlush":false,"labelBound":false}},
   "y":{"field":"y","type":"quantitative","scale":{"domain":[-0.8,0.2],"nice":false,"zero":false},"axis":{"title":null,"values":[-0.8,-0.6,-0.4,-0.2,0,0.2],"format":".1f","labelOverlap":false,"labelBound":false}},"detail":{"field":"b"},
   "color":{"field":"s","type":"nominal","scale":{"domain":["u","d"],"range":["#3d62e6","#e8322c"]},
    "legend":{"title":null,"orient":"bottom-right","offset":4,"symbolType":"M-2,0H2","symbolSize":140,"symbolStrokeWidth":1.5,"labelExpr":"datum.value=='u'?'↑':'↓'","labelFont":"DejaVu Sans","labelFontSize":11,"labelOffset":8,"fillColor":"rgba(255,255,255,0.8)","strokeColor":"#cccccc","padding":3,"cornerRadius":3,"rowPadding":1}}}}
 ]}
],"spacing":12,"resolve":{"scale":{"color":"independent"},"legend":{"color":"independent"}}}
]
}
